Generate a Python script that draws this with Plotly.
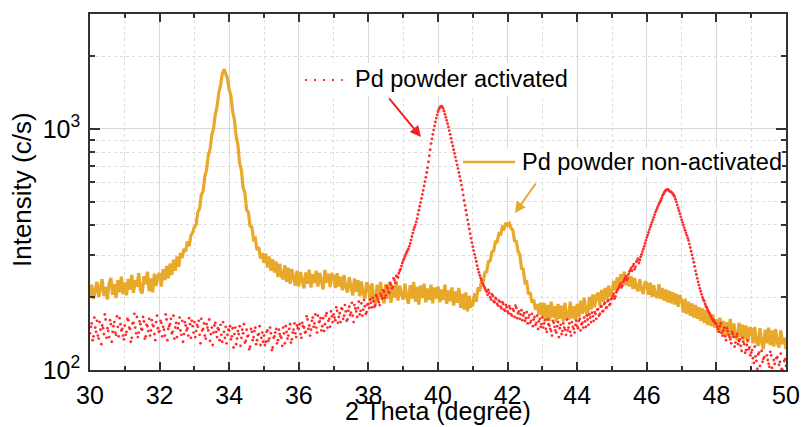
import numpy as np
import plotly.graph_objects as go

# 2-theta scan grid: 30.00 ... 50.00 deg, 0.05 deg step
two_theta = np.round(np.arange(30.0, 50.0001, 0.05), 2)
# intermediate points of the activated scan (30.025 ... 49.975 deg)
two_theta_mid = np.round(two_theta[:-1] + 0.025, 3)

# Pd powder, non-activated (counts/s), one row per degree
non_activated = [
    200, 226, 197, 219, 232, 201, 224, 238, 203, 221, 196, 229, 241, 205, 227, 199, 236, 210, 244, 206,
    231, 204, 239, 216, 248, 209, 236, 222, 252, 214, 208, 245, 227, 256, 212, 240, 210, 251, 223, 246,
    252, 222, 262, 236, 270, 240, 276, 248, 287, 258, 296, 268, 306, 292, 318, 310, 342, 326, 362, 372,
    392, 402, 452, 468, 535, 552, 636, 676, 780, 825, 945, 1000, 1150, 1235, 1410, 1515, 1690, 1770, 1700, 1620,
    1460, 1370, 1180, 1090, 930, 860, 720, 675, 570, 545, 462, 452, 396, 392, 348, 352, 314, 324, 290, 306,
    278, 304, 266, 296, 258, 288, 254, 282, 243, 276, 246, 238, 272, 232, 266, 228, 262, 240, 224, 258,
    222, 255, 232, 218, 254, 228, 261, 220, 250, 230, 258, 222, 253, 236, 216, 260, 230, 251, 221, 249,
    246, 219, 252, 222, 244, 214, 248, 220, 210, 243, 218, 204, 240, 211, 236, 202, 233, 208, 198, 231,
    222, 193, 229, 199, 188, 226, 196, 232, 202, 189, 227, 198, 231, 190, 222, 200, 234, 194, 224, 205,
    196, 228, 201, 188, 225, 198, 232, 192, 221, 187, 224, 199, 228, 191, 218, 195, 226, 189, 220, 198,
    222, 191, 216, 195, 226, 188, 214, 193, 220, 185, 212, 190, 219, 181, 207, 178, 210, 175, 203, 184,
    186, 208, 192, 220, 212, 235, 234, 254, 256, 282, 284, 309, 312, 340, 340, 368, 366, 392, 386, 408,
    398, 406, 388, 380, 344, 342, 310, 302, 264, 262, 230, 232, 206, 210, 190, 196, 178, 188, 170, 190,
    166, 190, 163, 186, 160, 192, 165, 184, 158, 188, 163, 185, 159, 190, 166, 162, 192, 164, 184, 161,
    188, 166, 194, 171, 199, 175, 168, 201, 178, 206, 182, 203, 209, 185, 215, 192, 219, 196, 224, 201,
    212, 234, 214, 242, 220, 250, 228, 256, 224, 248, 222, 245, 217, 241, 220, 212, 238, 215, 207, 233,
    228, 205, 230, 201, 225, 204, 199, 227, 197, 219, 194, 216, 191, 213, 189, 210, 187, 207, 183, 205,
    194, 173, 197, 171, 192, 168, 189, 165, 186, 163, 182, 160, 180, 157, 177, 154, 173, 152, 170, 150,
    162, 143, 165, 141, 160, 138, 158, 140, 163, 136, 156, 139, 133, 157, 137, 154, 134, 153, 130, 150,
    148, 129, 151, 131, 126, 149, 130, 122, 147, 129, 150, 127, 146, 125, 148, 130, 124, 146, 128, 136,
    122,
]

# Pd powder, activated (counts/s) on the 0.05 deg grid, one row per degree
activated = [
    142, 156, 138, 150, 160, 135, 147, 153, 141, 162, 149, 137, 155, 144, 158, 140, 151, 164, 146, 139,
    153, 144, 161, 148, 136, 157, 150, 166, 143, 155, 147, 159, 138, 152, 163, 146, 154, 141, 158, 149,
    145, 157, 151, 139, 162, 148, 155, 142, 168, 150, 137, 156, 146, 160, 141, 153, 149, 164, 136, 152,
    158, 145, 151, 140, 163, 148, 139, 155, 146, 132, 150, 143, 157, 137, 147, 154, 131, 144, 151, 140,
    146, 134, 149, 141, 128, 145, 152, 136, 142, 130, 147, 139, 125, 144, 137, 150, 133, 141, 127, 143,
    139, 131, 146, 135, 142, 124, 138, 148, 133, 141, 136, 150, 129, 144, 139, 155, 134, 147, 142, 153,
    148, 141, 157, 150, 144, 162, 153, 147, 165, 156, 150, 168, 159, 146, 164, 155, 172, 160, 151, 167,
    170, 161, 176, 166, 158, 179, 168, 175, 162, 183, 173, 168, 186, 175, 181, 170, 189, 178, 184, 174,
    188, 196, 182, 193, 186, 200, 191, 207, 198, 211, 204, 218, 209, 226, 221, 236, 246, 242, 258, 270,
    285, 296, 308, 318, 335, 358, 382, 400, 425, 460, 495, 535, 580, 630, 690, 775, 870, 950, 1030, 1110,
    1180, 1225, 1245, 1215, 1150, 1085, 1020, 950, 880, 820, 765, 710, 660, 610, 560, 505, 460, 420, 385, 352,
    325, 302, 282, 262, 247, 236, 226, 218, 211, 215, 200, 206, 193, 199, 188, 194, 183, 191, 178, 186,
    175, 184, 170, 179, 166, 181, 172, 163, 177, 168, 160, 174, 165, 157, 171, 162, 154, 168, 159, 151,
    165, 156, 148, 162, 153, 145, 160, 151, 143, 158, 149, 141, 156, 147, 162, 150, 144, 158, 148, 154,
    152, 160, 146, 157, 165, 151, 162, 170, 158, 167, 174, 163, 179, 171, 184, 176, 190, 182, 195, 188,
    198, 207, 202, 214, 220, 228, 224, 236, 245, 240, 256, 265, 270, 262, 281, 290, 286, 302, 318, 335,
    355, 372, 392, 410, 430, 452, 470, 490, 505, 528, 545, 558, 562, 552, 548, 538, 524, 498, 470, 445,
    420, 400, 380, 362, 345, 322, 300, 280, 258, 240, 225, 212, 200, 193, 184, 178, 172, 166, 160, 158,
    155, 148, 152, 143, 146, 138, 149, 140, 134, 144, 137, 130, 141, 132, 126, 136, 128, 121, 133, 124,
    118, 112, 125, 109, 116, 104, 120, 111, 97, 115, 106, 119, 102, 110, 96, 113, 105, 117, 100, 109,
    104,
]

# Pd powder, activated (counts/s) on the intermediate points, one row per degree
activated_mid = [
    151, 133, 165, 144, 139, 158, 128, 149, 170, 136, 145, 161, 131, 152, 143, 167, 138, 155, 148, 134,
    140, 163, 150, 131, 156, 171, 142, 137, 159, 148, 166, 135, 154, 145, 139, 161, 152, 133, 168, 144,
    160, 138, 147, 170, 133, 152, 163, 144, 135, 157, 149, 165, 140, 131, 158, 146, 139, 155, 160, 143,
    137, 154, 160, 129, 146, 156, 135, 150, 162, 141, 127, 153, 144, 149, 133, 140, 158, 136, 129, 147,
    152, 138, 124, 150, 135, 141, 126, 147, 155, 132, 138, 122, 148, 133, 145, 128, 140, 152, 136, 131,
    127, 144, 132, 150, 121, 136, 143, 129, 147, 138, 126, 142, 152, 135, 148, 130, 143, 156, 137, 149,
    155, 136, 152, 143, 167, 148, 139, 160, 151, 170, 143, 158, 164, 152, 145, 168, 150, 163, 175, 158,
    165, 182, 157, 172, 180, 163, 186, 160, 176, 169, 190, 158, 180, 166, 192, 176, 168, 195, 171, 187,
    181, 190, 199, 183, 204, 195, 186, 203, 214, 199, 222, 211, 230, 218, 240, 230, 244, 252, 262, 278,
    290, 302, 313, 326, 346, 370, 391, 412, 442, 478, 515, 556, 605, 660, 730, 820, 910, 990, 1070, 1145,
    1205, 1240, 1235, 1185, 1118, 1052, 985, 915, 850, 792, 738, 685, 635, 585, 532, 482, 440, 402, 368, 338,
    313, 292, 271, 254, 241, 230, 222, 214, 205, 209, 196, 203, 191, 197, 185, 192, 180, 188, 176, 182,
    172, 180, 168, 176, 185, 164, 175, 170, 161, 172, 164, 156, 169, 160, 152, 166, 157, 148, 163, 155,
    150, 161, 144, 155, 148, 139, 157, 146, 152, 137, 154, 145, 150, 140, 146, 156, 139, 151, 143, 160,
    149, 163, 155, 150, 159, 168, 154, 165, 173, 160, 171, 178, 168, 183, 175, 188, 181, 193, 186, 197,
    203, 198, 210, 217, 224, 220, 232, 240, 236, 250, 260, 258, 275, 268, 285, 278, 295, 310, 326, 345,
    363, 382, 401, 420, 441, 461, 480, 497, 516, 536, 552, 560, 557, 550, 543, 531, 511, 484, 458, 432,
    410, 390, 371, 353, 333, 311, 290, 269, 249, 232, 218, 206, 196, 188, 181, 175, 169, 163, 161, 156,
    151, 144, 156, 139, 150, 133, 145, 137, 129, 141, 125, 138, 128, 134, 120, 131, 118, 127, 122, 115,
    121, 107, 114, 101, 118, 99, 108, 113, 94, 110, 103, 115, 98, 106, 112, 93, 108, 101, 96, 111,
]

x_ticks = list(range(30, 51, 2))
y_ticks = [100, 1000]
y_tick_text = ["10<sup>2</sup>", "10<sup>3</sup>"]
y_minor = [200, 300, 400, 500, 600, 700, 800, 900, 2000, 3000]

x_title = "2 Theta (degree)"
y_title = "Intensity (c/s)"
label_activated = "Pd powder activated"
label_non_activated = "Pd powder non-activated"

YELLOW = "#E8A82A"
RED = "#FF2B2B"
AXIS = "#333333"
FONT = "Liberation Sans, Arial, sans-serif"

act_x = np.concatenate([two_theta, two_theta_mid])
act_y = np.concatenate([activated, activated_mid])
order = np.argsort(act_x)

fig = go.Figure()
fig.add_trace(go.Scatter(
    x=two_theta, y=non_activated, mode="lines",
    line=dict(color=YELLOW, width=3.2), showlegend=False,
))
fig.add_trace(go.Scatter(
    x=act_x[order], y=act_y[order], mode="markers",
    marker=dict(color=RED, size=2.8, line=dict(width=0)), showlegend=False,
))

axis_common = dict(
    showline=True, linecolor=AXIS, linewidth=1.5, mirror="allticks",
    ticks="inside", tickcolor=AXIS, tickwidth=1.5,
    showgrid=True, gridcolor="#d9d9d9", gridwidth=1,
    tickfont=dict(family=FONT, size=25, color="black"),
    zeroline=False, automargin=False,
)

fig.update_xaxes(
    **axis_common, range=[30, 50], tickvals=x_ticks, ticklen=8, ticklabelstandoff=2,
    minor=dict(dtick=1, tick0=30, ticks="inside", ticklen=4, tickcolor=AXIS,
               showgrid=True, griddash="dot", gridcolor="#dcdcdc"),
)
fig.update_yaxes(
    **axis_common, type="log", range=[2, np.log10(3000)],
    tickvals=y_ticks, ticktext=y_tick_text, ticklen=10, ticklabelstandoff=3,
    minor=dict(tickvals=y_minor, ticks="inside", ticklen=5, tickcolor=AXIS,
               showgrid=True, griddash="dot", gridcolor="#dcdcdc"),
)

# Legend boxes, drawn above the data in paper coordinates
shapes = [
    dict(type="rect", xref="paper", yref="paper", x0=0.3017, x1=0.6968, y0=0.7697, y1=0.8624,
         fillcolor="white", line=dict(width=0), layer="above"),
    dict(type="line", xref="paper", yref="paper", x0=0.3089, x1=0.3630, y0=0.8146, y1=0.8146,
         line=dict(color=RED, width=2, dash="2px,7px"), layer="above"),
    dict(type="rect", xref="paper", yref="paper", x0=0.533, x1=0.9943, y0=0.542, y1=0.6236,
         fillcolor="white", line=dict(width=0), layer="above"),
    dict(type="line", xref="paper", yref="paper", x0=0.5359, x1=0.6106, y0=0.5843, y1=0.5843,
         line=dict(color=YELLOW, width=2.5), layer="above"),
]

annotations = [
    # axis titles
    dict(text=x_title, xref="paper", yref="paper", x=0.5, y=-0.1152,
         xanchor="center", yanchor="middle", showarrow=False,
         font=dict(family=FONT, size=25, color="black")),
    dict(text=y_title, xref="paper", yref="paper", x=-0.0977, y=0.5056, textangle=-90,
         xanchor="center", yanchor="middle", showarrow=False,
         font=dict(family=FONT, size=26, color="black")),
    # legend texts
    dict(text=label_activated, xref="paper", yref="paper", x=0.378, y=0.8174,
         xanchor="left", yanchor="middle", showarrow=False,
         font=dict(family=FONT, size=23.5, color="black")),
    dict(text=label_non_activated, xref="paper", yref="paper", x=0.618, y=0.5843,
         xanchor="left", yanchor="middle", showarrow=False,
         font=dict(family=FONT, size=23.5, color="black")),
    # arrows pointing at the two Pd peaks
    dict(text="", x=39.51, y=2.9668, ax=38.56, ay=3.1328, xref="x", yref="y",
         axref="x", ayref="y", showarrow=True, arrowhead=2, arrowsize=1.1,
         arrowwidth=2, arrowcolor="#EE2222"),
    dict(text="", x=42.21, y=2.6515, ax=42.84, ay=2.780, xref="x", yref="y",
         axref="x", ayref="y", showarrow=True, arrowhead=2, arrowsize=1.1,
         arrowwidth=2, arrowcolor=YELLOW),
]

fig.update_layout(
    width=801, height=427,
    margin=dict(l=90, r=15, t=14, b=57),
    plot_bgcolor="white", paper_bgcolor="white",
    shapes=shapes, annotations=annotations,
    showlegend=False,
)

fig.write_html("out.html")
